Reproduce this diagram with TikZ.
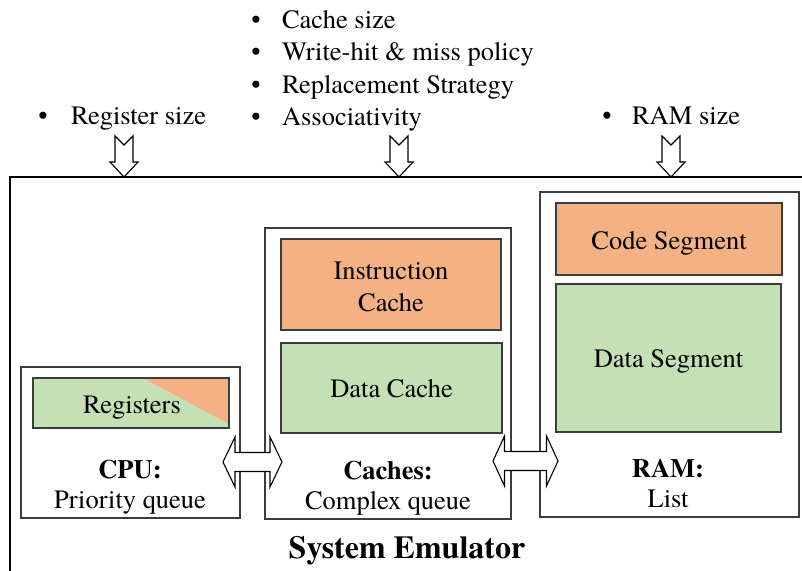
\documentclass[tikz,border=0pt]{standalone}
\usepackage{fontspec}
\setmainfont{TeX Gyre Termes}
\newfontfamily\tnr{TeX Gyre Termes}
\usetikzlibrary{calc}
\definecolor{orF}{HTML}{F4B183}
\definecolor{grF}{HTML}{C5E0B4}
\definecolor{edgeC}{HTML}{3C3C3C}
\begin{document}
\begin{tikzpicture}[x=1pt,y=-1pt,
  every node/.style={inner sep=0pt, outer sep=0pt},
  txt/.style={font=\tnr\fontsize{26.5}{31}\selectfont},
  bold/.style={font=\tnr\fontsize{26.5}{31}\selectfont\bfseries},
  container/.style={draw=edgeC, line width=1.5pt, fill=white},
  orbox/.style={draw=edgeC, line width=1.5pt, fill=orF},
  grbox/.style={draw=edgeC, line width=1.5pt, fill=grF},
  hollow/.style={draw=black, line width=1.1pt, fill=white, line join=miter}
]
\useasboundingbox (0,0) rectangle (802,570);
\clip (0,0) rectangle (802,570);

% outer system box (cut by the picture edge)
\node[draw=black, line width=1.5pt, minimum width=830pt, minimum height=420pt, anchor=north west] (sys) at (10,177) {};
\node[font=\tnr\fontsize{32}{36}\selectfont\bfseries, anchor=base] (systitle) at (407,558) {System Emulator};

% containers
\node[container, minimum width=219pt, minimum height=151pt] (cpu) at (130.5,442.5) {};
\node[container, minimum width=246pt, minimum height=291pt] (caches) at (388,373.5) {};
\node[container, minimum width=259pt, minimum height=325pt] (ram) at (669.5,354.5) {};

% registers (green with orange corner)
\node[minimum width=196pt, minimum height=50pt] (regs) at (131,403) {};
\fill[grF] (regs.north west) rectangle (regs.south east);
\fill[orF] ($(regs.north west)+(110,0)$) -- (regs.north east) -- ($(regs.south east)+(0,-4)$) -- cycle;
\draw[draw=edgeC, line width=1.5pt] (regs.north west) rectangle (regs.south east);
\node[txt, anchor=base] (regst) at (132,413) {Registers};

% caches content
\node[orbox, minimum width=220pt, minimum height=91pt] (icache) at (391,284.5) {};
\node[txt, anchor=base] (ict1) at (391,279) {Instruction};
\node[txt, anchor=base] (ict2) at (391,311) {Cache};
\node[grbox, minimum width=221pt, minimum height=90pt] (dcache) at (391.5,388) {};
\node[txt, anchor=base] (dct) at (391.5,397) {Data Cache};

% RAM content
\node[orbox, minimum width=226pt, minimum height=72pt] (codeseg) at (669,239) {};
\node[txt, anchor=base] (cst) at (669,249) {Code Segment};
\node[grbox, minimum width=225pt, minimum height=148pt] (dataseg) at (668.5,358) {};
\node[txt, anchor=base] (dst) at (668.5,367) {Data Segment};

% container labels
\node[bold, anchor=base] (cpul1) at (130,478) {CPU:};
\node[txt, anchor=base] (cpul2) at (130,508) {Priority queue};
\node[bold, anchor=base] (cachl1) at (388,479) {Caches:};
\node[txt, anchor=base] (cachl2) at (388,509) {Complex queue};
\node[bold, anchor=base] (raml1) at (668,477) {RAM:};
\node[txt, anchor=base] (raml2) at (668,507) {List};

% parameter lists
\node[txt, anchor=base] (b1) at (43,124) {•};
\node[txt, anchor=base west] (p1) at (71,124) {Register size};
\node[txt, anchor=base] (b2a) at (256,28) {•};
\node[txt, anchor=base west] (p2a) at (282,28) {Cache size};
\node[txt, anchor=base] (b2b) at (256,60) {•};
\node[txt, anchor=base west] (p2b) at (282,60) {Write-hit \& miss policy};
\node[txt, anchor=base] (b2c) at (256,93) {•};
\node[txt, anchor=base west] (p2c) at (282,93) {Replacement Strategy};
\node[txt, anchor=base] (b2d) at (256,125) {•};
\node[txt, anchor=base west] (p2d) at (282,125) {Associativity};
\node[txt, anchor=base] (b3) at (607,124) {•};
\node[txt, anchor=base west] (p3) at (632,124) {RAM size};

% notched down arrows into the system box
\foreach \xx/\nm in {124/da1, 399/da2, 671/da3}{
  \coordinate (\nm) at (\xx,177);
  \draw[hollow] ($(\nm)+(-9,-41)$) -- ($(\nm)+(0,-32)$) -- ($(\nm)+(9,-41)$) -- ($(\nm)+(9,-15)$)
    -- ($(\nm)+(14,-15)$) -- (\nm) -- ($(\nm)+(-14,-15)$) -- ($(\nm)+(-9,-15)$) -- cycle;
}

% double arrows between components
\coordinate (m1) at ($(cpu.east)!0.5!(caches.west |- cpu.east)$);
\coordinate (a1) at (m1 |- 0,462);
\draw[hollow] ($(a1)+(-29.5,0)$) -- ++(12,-25) -- ++(0,15.5) -- ++(35,0) -- ++(0,-15.5)
  -- ++(12,25) -- ++(-12,25) -- ++(0,-15.5) -- ++(-35,0) -- ++(0,15.5) -- cycle;
\coordinate (m2) at ($(caches.east)!0.5!(ram.west |- caches.east)$);
\coordinate (a2) at (m2 |- 0,461);
\draw[hollow] ($(a2)+(-32.5,0)$) -- ++(11.5,-25) -- ++(0,15.5) -- ++(42,0) -- ++(0,-15.5)
  -- ++(11.5,25) -- ++(-11.5,25) -- ++(0,-15.5) -- ++(-42,0) -- ++(0,15.5) -- cycle;
\end{tikzpicture}
\end{document}
